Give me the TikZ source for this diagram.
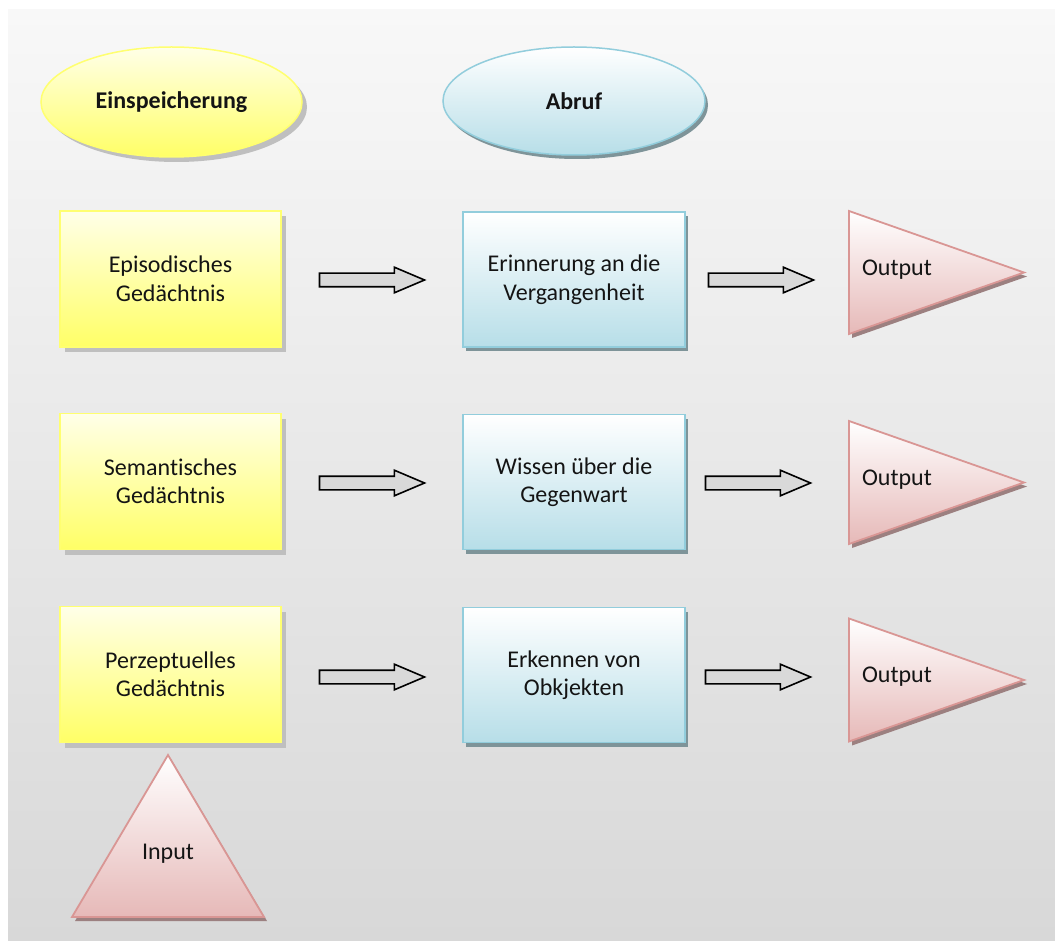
\documentclass[tikz,border=0pt]{standalone}
\usepackage{fontspec}
\setmainfont[Ligatures=NoCommon]{Carlito}
\usetikzlibrary{shapes.geometric,shapes.arrows,shadows,calc}
\definecolor{ylw}{HTML}{FFFF66}
\definecolor{ylwtop}{HTML}{FFFFE8}
\definecolor{ylwline}{HTML}{FFFF70}
\definecolor{bluebot}{HTML}{B7DEE8}
\definecolor{blueline}{HTML}{92CDDC}
\definecolor{blueshadow}{HTML}{7E9499}
\definecolor{pinkbot}{HTML}{E6B9B8}
\definecolor{pinkline}{HTML}{D99694}
\definecolor{pinkshadow}{HTML}{9C8080}
\definecolor{bgtop}{HTML}{F8F8F8}
\definecolor{bgbot}{HTML}{D8D8D8}
\definecolor{arrowfill}{HTML}{D9D9D9}
\definecolor{ink}{HTML}{141414}
\begin{document}
\begin{tikzpicture}[x=1pt,y=-1pt,
  every node/.style={font=\fontsize{24}{28.5}\selectfont, align=center,
    inner sep=0pt, outer sep=0pt, text=ink},
  yshadow/.style={drop shadow={shadow xshift=5pt, shadow yshift=-5pt,
    fill=black!25, opacity=1}},
  hshadow/.style={drop shadow={shadow xshift=3pt, shadow yshift=-4pt,
    fill=#1, opacity=1}},
  storehead/.style={ellipse, minimum width=261pt, minimum height=110pt,
    top color=ylwtop, bottom color=ylw, draw=ylwline, line width=1.5pt,
    yshadow, font=\fontsize{24}{28}\selectfont\bfseries},
  recallhead/.style={ellipse, minimum width=262pt, minimum height=108pt,
    top color=white, bottom color=bluebot, draw=blueline, line width=1.5pt,
    hshadow=blueshadow, font=\fontsize{24}{28}\selectfont\bfseries},
  storebox/.style={rectangle, minimum width=221pt, minimum height=136pt,
    top color=ylwtop, bottom color=ylw, draw=ylwline, line width=1.5pt, yshadow},
  recallbox/.style={rectangle, minimum width=222pt, minimum height=135pt,
    top color=white, bottom color=bluebot, draw=blueline, line width=1.8pt,
    hshadow=blueshadow},
  outtri/.style={isosceles triangle, isosceles triangle stretches,
    minimum height=175pt, minimum width=123pt,
    top color=white, bottom color=pinkbot, draw=pinkline, line width=1.8pt,
    hshadow=pinkshadow},
  intri/.style={isosceles triangle, isosceles triangle stretches,
    shape border rotate=90, minimum height=162pt, minimum width=192pt,
    top color=white, bottom color=pinkbot, draw=pinkline, line width=1.8pt,
    hshadow=pinkshadow},
  blockarrow/.style={single arrow, minimum height=105pt, anchor=tail,
    single arrow head extend=6pt, single arrow tip angle=46,
    fill=arrowfill, draw=black, line width=1.6pt}
]
\useasboundingbox (0,0) rectangle (1055,941);
% page background
\fill[white] (0,0) rectangle (1055,941);
\shade[top color=bgtop, bottom color=bgbot] (8,10) rectangle (1055,941);

% column headings
\node[storehead] (hstore) at (171.5,102) {Einspeicherung};
\node[recallhead] (hrecall) at (574,101) {Abruf};

% memory systems
\node[storebox] (s1) at (170.5,279) {Episodisches\\Gedächtnis};
\node[storebox] (s2) at (170.5,481.5) {Semantisches\\Gedächtnis};
\node[storebox] (s3) at (170.5,674.5) {Perzeptuelles\\Gedächtnis};

% retrieval
\node[recallbox] (r1) at (574,279.5) {Erinnerung an die\\Vergangenheit};
\node[recallbox] (r2) at (574,482) {Wissen über die\\Gegenwart};
\node[recallbox] (r3) at (574,675) {Erkennen von\\Obkjekten};

% outputs
\node[outtri, anchor=apex] (o1) at (1024,272.5) {};
\node[outtri, anchor=apex] (o2) at (1024,482.5) {};
\node[outtri, anchor=apex] (o3) at (1024,680) {};
\node (o1t) at ($(o1.lower side)+(48,-3)$) {Output};
\node (o2t) at ($(o2.lower side)+(48,-3)$) {Output};
\node (o3t) at ($(o3.lower side)+(48,-3)$) {Output};

% input
\node[intri, anchor=apex] (in) at (168,755) {};
\node (int) at ($(in.apex)+(0,99)$) {Input};

% block arrows between the columns
\node[blockarrow] (a1) at ($(s1.east)+(38.5,1)$) {\rule{0pt}{12pt}};
\node[blockarrow] (a2) at ($(s2.east)+(38.5,1.5)$) {\rule{0pt}{12pt}};
\node[blockarrow] (a3) at ($(s3.east)+(38.5,2.5)$) {\rule{0pt}{12pt}};
\node[blockarrow] (b1) at ($(r1.east)+(23.5,0.5)$) {\rule{0pt}{12pt}};
\node[blockarrow] (b2) at ($(r2.east)+(20.5,1)$) {\rule{0pt}{12pt}};
\node[blockarrow] (b3) at ($(r3.east)+(20.5,2)$) {\rule{0pt}{12pt}};
\end{tikzpicture}
\end{document}
